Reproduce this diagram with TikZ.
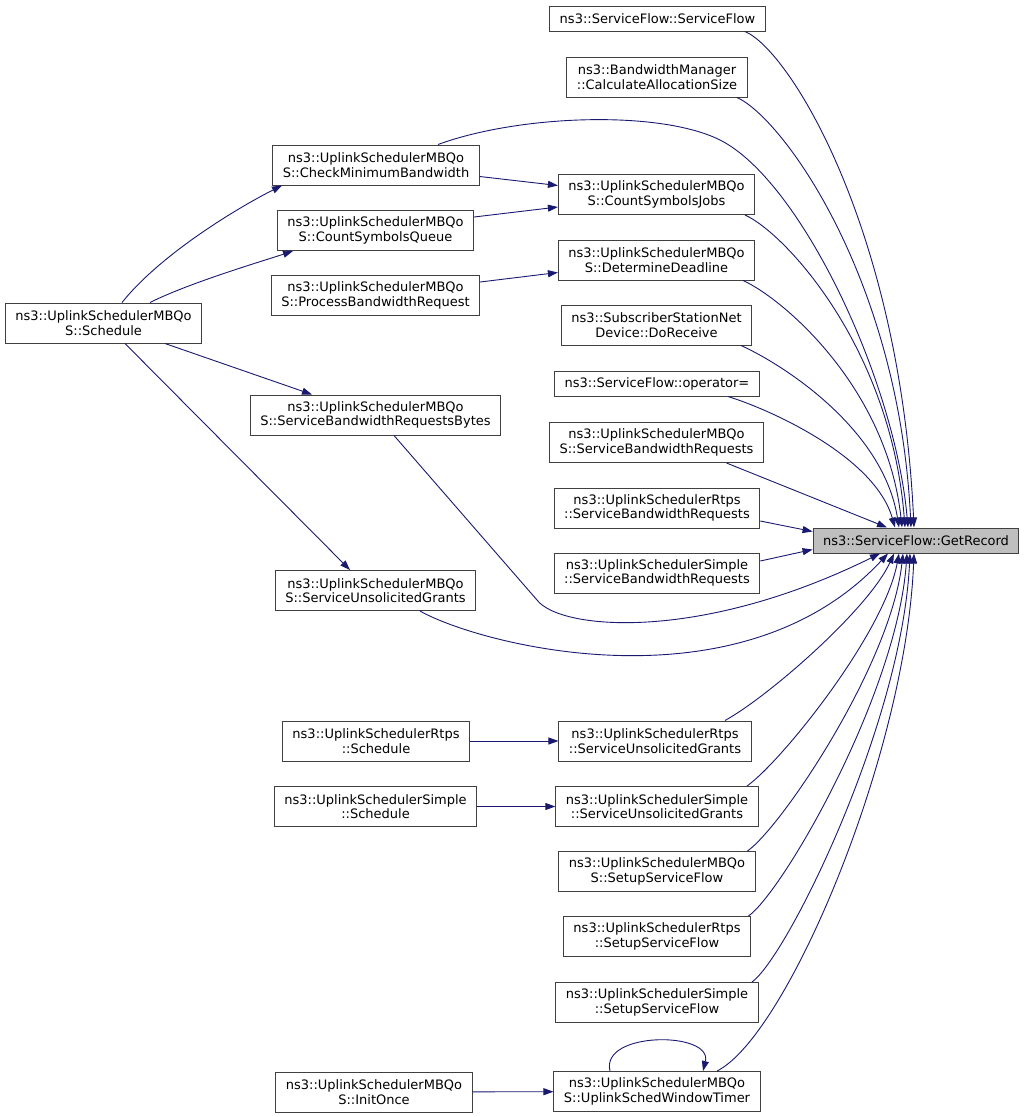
\documentclass[tikz,border=0pt]{standalone}
\usepackage{fontspec}
\setmainfont{DejaVu Sans}
\usepackage{tikz}
\usetikzlibrary{arrows.meta}
\definecolor{dxEdge}{HTML}{191970}
\definecolor{dxBorder}{HTML}{404040}
\definecolor{dxFocus}{HTML}{BFBFBF}
\tikzset{
  fnbox/.style={draw=dxBorder,line width=1pt,fill=white,align=center,
    inner xsep=10pt,inner ysep=2pt,minimum height=25pt,
    font=\fontsize{13}{14.5}\selectfont},
  dbl/.style={minimum height=40pt},
  call/.style={draw=dxEdge,line width=0.9pt,-{Triangle[length=10pt,width=7pt]}}
}

\begin{document}
\begin{tikzpicture}[x=1pt,y=-1pt]
  \useasboundingbox (0,0) rectangle (1024,1117);

  \node[fnbox] (sfCtor) at (657.5,18.5) {ns3::ServiceFlow::ServiceFlow};
  \node[fnbox,dbl] (calcAlloc) at (657,77) {ns3::BandwidthManager\\::CalculateAllocationSize};
  \node[fnbox,dbl] (checkMin) at (376,165) {ns3::UplinkSchedulerMBQo\\S::CheckMinimumBandwidth};
  \node[fnbox,dbl] (countJobs) at (656.5,194.5) {ns3::UplinkSchedulerMBQo\\S::CountSymbolsJobs};
  \node[fnbox,dbl] (countQueue) at (375.5,230.5) {ns3::UplinkSchedulerMBQo\\S::CountSymbolsQueue};
  \node[fnbox,dbl] (deadline) at (656.5,260) {ns3::UplinkSchedulerMBQo\\S::DetermineDeadline};
  \node[fnbox,dbl] (procBw) at (375.5,295.5) {ns3::UplinkSchedulerMBQo\\S::ProcessBandwidthRequest};
  \node[fnbox,dbl] (schedMB) at (103.5,323) {ns3::UplinkSchedulerMBQo\\S::Schedule};
  \node[fnbox,dbl] (doReceive) at (656.5,325) {ns3::SubscriberStationNet\\Device::DoReceive};
  \node[fnbox] (opAssign) at (657,383.5) {ns3::ServiceFlow::operator=};
  \node[fnbox,dbl] (sbrBytes) at (375.5,415) {ns3::UplinkSchedulerMBQo\\S::ServiceBandwidthRequestsBytes};
  \node[fnbox,dbl] (sbrMB) at (656.5,442.5) {ns3::UplinkSchedulerMBQo\\S::ServiceBandwidthRequests};
  \node[fnbox,dbl] (sbrRtps) at (657,508) {ns3::UplinkSchedulerRtps\\::ServiceBandwidthRequests};
  \node[fnbox,fill=dxFocus] (getRecord) at (916,540.5) {ns3::ServiceFlow::GetRecord};
  \node[fnbox,dbl] (sbrSimple) at (657,573) {ns3::UplinkSchedulerSimple\\::ServiceBandwidthRequests};
  \node[fnbox,dbl] (sugMB) at (375.5,590.5) {ns3::UplinkSchedulerMBQo\\S::ServiceUnsolicitedGrants};
  \node[fnbox,dbl] (schedRtps) at (376,741) {ns3::UplinkSchedulerRtps\\::Schedule};
  \node[fnbox,dbl] (sugRtps) at (655,741) {ns3::UplinkSchedulerRtps\\::ServiceUnsolicitedGrants};
  \node[fnbox,dbl] (schedSimple) at (375.5,806.5) {ns3::UplinkSchedulerSimple\\::Schedule};
  \node[fnbox,dbl] (sugSimple) at (657,806.5) {ns3::UplinkSchedulerSimple\\::ServiceUnsolicitedGrants};
  \node[fnbox,dbl] (setupMB) at (657,871.5) {ns3::UplinkSchedulerMBQo\\S::SetupServiceFlow};
  \node[fnbox,dbl] (setupRtps) at (657,936.5) {ns3::UplinkSchedulerRtps\\::SetupServiceFlow};
  \node[fnbox,dbl] (setupSimple) at (657,1002.5) {ns3::UplinkSchedulerSimple\\::SetupServiceFlow};
  \node[fnbox,dbl] (initOnce) at (374,1092) {ns3::UplinkSchedulerMBQo\\S::InitOnce};
  \node[fnbox,dbl] (windowTimer) at (657,1091.5) {ns3::UplinkSchedulerMBQo\\S::UplinkSchedWindowTimer};

  \draw[call] ([xshift=87.5pt]sfCtor.south) .. controls +(45,19) and +(-14,-298) .. ([xshift=-2pt]getRecord.north);
  \draw[call] ([xshift=80pt]calcAlloc.south) .. controls +(45,20) and +(-12,-250) .. ([xshift=-5pt]getRecord.north);
  \draw[call] ([xshift=62pt]checkMin.north) .. controls +(82,-30) and +(-60,-30) .. (720,140)
    .. controls +(80,40) and +(-13,-148) .. ([xshift=-8pt]getRecord.north);
  \draw[call] ([xshift=88.5pt]countJobs.south) .. controls +(40,18) and +(-14,-180) .. ([xshift=-11pt]getRecord.north);
  \draw[call] ([xshift=86.5pt]deadline.south) .. controls +(40,18) and +(-15,-140) .. ([xshift=-14pt]getRecord.north);
  \draw[call] ([xshift=84.5pt]doReceive.south) .. controls +(40,18) and +(-16,-100) .. ([xshift=-17pt]getRecord.north);
  \draw[call] ([xshift=71pt]opAssign.south) .. controls +(45,14) and +(-20,-70) .. ([xshift=-21pt]getRecord.north);
  \draw[call] ([xshift=70pt]sbrMB.south) -- ([xshift=-29pt]getRecord.north);
  \draw[call] ([yshift=-13pt]sbrRtps.east) -- ([yshift=9pt]getRecord.west);
  \draw[call] ([yshift=12pt]sbrSimple.east) -- ([yshift=-9pt]getRecord.west);
  \draw[call] ([xshift=18.5pt]sbrBytes.south) -- (537,600) .. controls +(23,30) and +(-180,89) .. ([xshift=-36pt]getRecord.south);
  \draw[call] ([xshift=44.5pt]sugMB.south) .. controls +(60,34) and +(-148,159) .. ([xshift=-28pt]getRecord.south);
  \draw[call] ([xshift=70pt]sugRtps.north) .. controls +(45,-25) and +(-25,55) .. ([xshift=-22pt]getRecord.south);
  \draw[call] ([xshift=90pt]sugSimple.north) .. controls +(35,-25) and +(-15,80) .. ([xshift=-17pt]getRecord.south);
  \draw[call] ([xshift=90.5pt]setupMB.north) .. controls +(35,-25) and +(-12,110) .. ([xshift=-13pt]getRecord.south);
  \draw[call] ([xshift=91.5pt]setupRtps.north) .. controls +(35,-25) and +(-10,140) .. ([xshift=-9pt]getRecord.south);
  \draw[call] ([xshift=95pt]setupSimple.north) .. controls +(35,-25) and +(-8,170) .. ([xshift=-6pt]getRecord.south);
  \draw[call] ([xshift=60pt]windowTimer.north) .. controls +(70,-35) and +(-8,200) .. ([xshift=-2pt]getRecord.south);

  \draw[call] ([xshift=18.5pt]schedMB.north) .. controls +(40,-50) and +(-40,20) .. ([xshift=-94pt]checkMin.south);
  \draw[call] ([xshift=46.5pt]schedMB.north) .. controls +(40,-20) and +(-30,10) .. ([xshift=-82.5pt]countQueue.south);
  \draw[call] ([xshift=61.5pt]schedMB.south) -- ([xshift=-63.5pt]sbrBytes.north);
  \draw[call] ([xshift=21.5pt]schedMB.south) -- ([xshift=-25.5pt]sugMB.north);
  \draw[call] ([yshift=-11.5pt]checkMin.east) -- ([yshift=9pt]countJobs.west);
  \draw[call] ([yshift=13.5pt]countQueue.east) -- ([yshift=-12.5pt]countJobs.west);
  \draw[call] ([yshift=13.5pt]procBw.east) -- ([yshift=-12.5pt]deadline.west);
  \draw[call] (schedRtps) -- (sugRtps);
  \draw[call] (schedSimple) -- (sugSimple);
  \draw[call] (initOnce) -- (windowTimer);
  \draw[call] ([xshift=-47pt]windowTimer.north) .. controls +(-10,-40) and +(10,-40) .. ([xshift=46pt]windowTimer.north);
\end{tikzpicture}
\end{document}
